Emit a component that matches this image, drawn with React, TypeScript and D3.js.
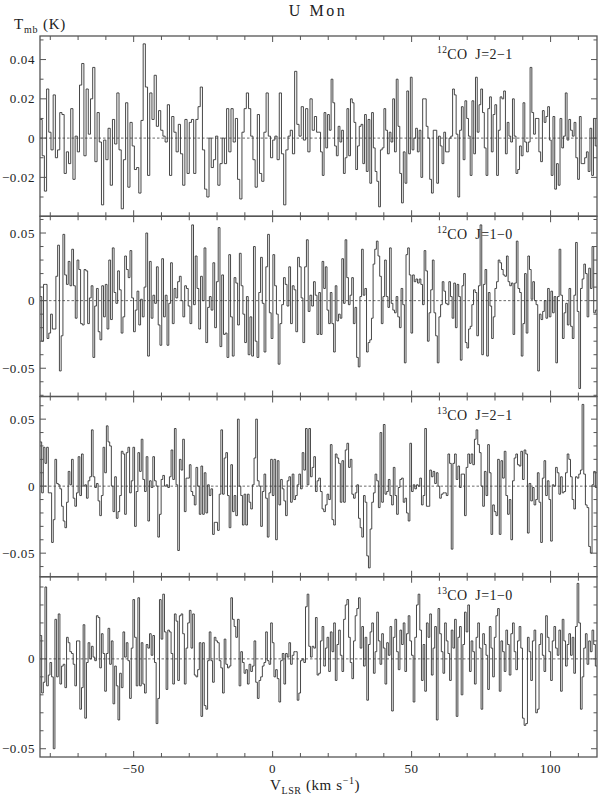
import React from "react";
import * as d3 from "d3";

// ---------- data (T_mb in K), read channel by channel from the picture ----------
const titleText = "U Mon";
const xTickMajor = [-50, 0, 50, 100];
const xDomain = [-83.7, 116.7];
const xSplit = 16.6;

const panelLabels = [
  { iso: "12", line: "CO J=2\u22121" },
  { iso: "12", line: "CO J=1\u22120" },
  { iso: "13", line: "CO J=2\u22121" },
  { iso: "13", line: "CO J=1\u22120" },
];
const yDomains = [
  [-0.0398, 0.052],
  [-0.0709, 0.0624],
  [-0.0676, 0.0669],
  [-0.0546, 0.0457],
];
const yTickLabels = [
  [0.04, 0.02, 0, -0.02],
  [0.05, 0, -0.05],
  [0.05, 0, -0.05],
  [0, -0.05],
];

const co21Left = [0.0095, -0.009, -0.027, 0.025, 0.003, -0.006, 0.022, -0.01, -0.006, 0.013, 0.012, -0.018, -0.007, -0.013, 0.015, -0.021, 0.001, -0.007, 0.027, 0.038, -0.009, 0.025, 0.002, 0.020, 0.036, -0.012, 0.013, -0.002, -0.034, -0.001, -0.011, 0.005, -0.024, 0.0095, -0.003, 0.023, -0.006, -0.036, -0.011, 0.018, -0.025, 0.008, -0.004, -0.016, -0.015, -0.028, 0.009, 0.048, 0.026, -0.019, 0.023, 0.0095, 0.032, 0.006, 0.014, 0.004, 0.001, -0.002, 0.017, -0.019, 0.011, 0.003, -0.007, 0.007, -0.008, -0.024, 0.0095, -0.018, 0.008, 0.0095, -0.018, 0.0095, 0.016, 0.026, -0.006, -0.026, -0.030, 0.000, -0.015, -0.011, 0.001, -0.024, -0.013, 0, -0.013, 0.015, -0.007, 0.015, -0.002, 0.010, -0.021, -0.031, 0.003, 0.015, 0.023, 0.015, 0.001, -0.011, -0.025, 0.012, -0.018, -0.022, 0.003, 0.023, 0.001, -0.010, -0.001, 0.001, -0.011, 0.023, -0.008, -0.034, -0.006, 0.001, 0.004, -0.008, 0.034, 0.007, 0.001, 0.016, -0.001, 0.015, -0.007, 0.020, 0.004, 0.011, 0.003];
const co21Right = [0.003, -0.007, -0.019, 0.013, -0.005, 0.012, 0.004, 0.030, 0.018, -0.004, -0.009, 0.006, -0.002, 0.004, -0.018, -0.010, 0.015, -0.009, 0.020, 0.018, 0.008, -0.016, -0.004, 0.006, 0.007, -0.013, 0.012, -0.017, 0.0095, -0.023, 0.013, -0.005, -0.017, -0.022, -0.035, -0.006, -0.005, 0.015, 0.004, -0.008, 0.003, -0.002, 0.020, -0.007, 0.030, 0.006, -0.018, -0.033, -0.007, -0.023, 0.024, -0.008, 0.031, -0.006, 0.000, 0.005, -0.007, 0.004, -0.020, 0.020, 0.020, 0.006, 0.0, -0.021, -0.028, 0.004, 0.004, -0.023, 0.001, -0.004, -0.013, 0.003, -0.007, -0.007, 0.0, 0.001, 0.025, 0.022, 0.002, -0.030, 0.004, 0.016, -0.011, 0.019, 0.010, 0.001, -0.019, 0.019, -0.008, 0.031, 0.003, 0.017, 0.025, 0.013, -0.005, -0.019, 0.015, 0.021, -0.007, 0.012, 0.017, -0.019, 0.004, 0.021, 0.020, 0.024, -0.008, 0.008, 0.001, -0.002, 0.020, 0.001, -0.018, -0.016, -0.004, -0.009, 0.018, -0.002, -0.007, -0.002, 0.036, 0.013, 0.002, 0.010, 0.010, -0.007, -0.012, 0.014, 0.008, 0.011, 0.016, -0.001, -0.019, 0.011, -0.026, -0.013, -0.024, 0.010, -0.005, 0.001, 0.023, -0.001, 0.0095, 0.004, 0.001, 0.008, -0.010, -0.021, 0.011, -0.013, -0.013, -0.010, -0.007, -0.017, 0.005, -0.019, 0.010, -0.004];

const co10Left = [0.003, -0.030, 0.012, 0.012, -0.028, -0.024, -0.010, -0.021, -0.021, 0.018, 0.041, -0.052, -0.026, 0.049, 0.019, 0.012, 0.029, 0.011, 0.038, 0.011, -0.013, 0.030, 0.023, -0.017, -0.018, 0.023, 0.022, -0.017, 0.002, 0.011, -0.042, -0.004, 0.009, -0.023, -0.029, 0.011, -0.012, 0.012, -0.021, 0.030, -0.014, 0.039, 0.006, -0.002, 0.022, 0.008, -0.024, -0.012, 0.033, 0.023, 0.017, 0.037, 0.002, -0.023, -0.007, 0.007, -0.018, 0.001, -0.012, 0.010, 0.050, -0.041, 0.029, -0.013, 0.004, -0.002, 0.025, -0.018, -0.033, 0.031, -0.012, 0.004, -0.033, -0.002, 0.028, -0.017, 0.009, 0.002, 0.014, 0.018, 0.0, -0.012, 0.011, 0.009, -0.004, -0.017, 0.056, -0.003, 0.033, 0.009, -0.021, 0.018, 0.0, 0.039, -0.031, -0.005, 0.003, -0.007, 0.028, -0.020, 0.014, 0.054, -0.034, 0.019, -0.025, -0.024, -0.042, 0.034, -0.012, -0.041, 0.017, 0.013, -0.018, 0.035, 0.011, -0.010, -0.031, 0.003, -0.040, -0.012, -0.041, 0.040, -0.030, -0.042, 0.006, 0.032, -0.002, -0.038, 0.025, 0.049, -0.009, -0.028, 0.034, 0.011, -0.010, -0.047, -0.017, -0.003, 0.017, 0.012, -0.004, 0.025, -0.017, 0.011, 0.008, -0.023, 0.032, 0.025, 0.002, -0.031, 0.025, 0.045, -0.008, 0.004, -0.004, 0.014, 0.004, -0.025];
const co10Right = [0.006, -0.025, 0.029, 0.009, 0.025, -0.007, -0.017, 0.006, -0.017, -0.038, 0.011, -0.015, -0.010, -0.013, 0.031, -0.002, 0.045, 0.017, -0.003, 0.004, 0.017, -0.017, -0.005, -0.042, -0.049, 0.003, 0.038, 0.004, 0.009, -0.038, -0.031, -0.029, -0.013, 0.027, 0.038, 0.044, 0.033, 0.018, -0.017, 0.003, 0.030, 0.003, -0.005, 0.039, -0.002, -0.007, -0.009, 0.003, -0.012, -0.020, 0.009, -0.003, -0.046, 0.034, 0.039, 0.019, -0.024, 0.019, 0.014, 0.016, 0.013, 0.016, 0.012, -0.003, 0.037, 0.022, -0.030, -0.009, 0.008, 0.030, -0.009, -0.026, -0.046, -0.012, -0.003, 0.014, 0.007, -0.002, -0.003, 0.014, 0.003, -0.013, 0.013, -0.020, 0.012, 0.003, -0.044, 0.011, 0.020, -0.031, -0.035, -0.021, -0.019, -0.003, 0.008, 0.006, -0.026, 0.011, 0.056, -0.040, 0.012, 0.023, -0.041, 0.006, -0.004, -0.028, -0.012, 0.009, 0.014, 0.030, 0.028, 0.023, 0.019, 0.018, 0.033, 0.014, 0.011, 0.013, -0.025, 0.013, 0.044, 0.009, 0.006, -0.041, -0.017, 0.020, -0.024, 0.033, 0.023, 0.001, 0.014, 0.0, -0.003, -0.052, -0.010, -0.014, -0.008, 0.0, -0.013, 0.009, -0.012, 0.007, -0.009, 0.003, -0.046, 0.003, 0.038, 0.004, -0.028, -0.009, -0.002, -0.018, 0.009, -0.019, -0.028, 0.004, 0.043, -0.008, -0.065, 0.009, 0.016, 0.027, 0.020, -0.012, 0.024, 0.009, 0.040, -0.009, -0.007];

const c13o21Left = [0.033, -0.005, 0.029, 0.017, 0.029, -0.005, -0.005, -0.042, -0.025, 0.020, 0.002, 0.001, -0.002, -0.015, -0.026, -0.031, -0.012, 0.011, 0.001, 0.020, -0.009, -0.015, -0.005, 0.022, -0.007, 0.024, 0.0, 0.001, -0.009, 0.004, 0.007, 0.042, 0.007, -0.001, 0.002, -0.011, -0.022, -0.007, 0.029, 0.010, 0.045, 0.033, 0.030, 0.0, -0.019, 0.007, -0.024, -0.019, -0.007, 0.026, 0.024, -0.021, 0.025, 0.029, -0.005, 0.004, 0.029, -0.030, -0.004, 0.025, 0.011, 0.035, 0.005, -0.004, 0.022, -0.026, 0.004, -0.001, 0.022, 0.004, 0.0, -0.038, -0.021, 0.005, 0.008, 0.0, 0.001, -0.001, 0.007, 0.027, 0.005, 0.043, 0.001, -0.048, 0.020, 0.012, 0.035, -0.019, 0.006, 0.006, 0.016, -0.004, -0.007, -0.014, 0.014, 0.0, -0.021, 0.015, -0.021, 0.010, -0.020, 0.001, -0.007, -0.002, -0.036, -0.027, -0.027, -0.033, -0.006, 0.042, -0.006, 0.021, 0.025, -0.007, -0.031, 0.016, -0.019, -0.007, -0.022, 0.050, 0.0, -0.007, -0.029, -0.006, -0.029, -0.006, -0.012, -0.017, 0.001, 0.021, 0.050, 0.004, 0.0, -0.030, -0.004, 0.009, -0.009, -0.038, -0.005, 0.020, -0.007, 0.020, -0.040, 0.019, -0.014, 0.005, -0.002, -0.011, -0.022, 0.004, 0.007, -0.012, 0.009, -0.010, -0.007, 0.001, 0.009, -0.002, 0.025, 0.012, 0.043, 0.001, 0.043, 0.007, 0.014, 0.022, -0.004, 0.004];
const c13o21Right = [0.006, -0.004, -0.017, -0.019, -0.014, -0.006, -0.010, 0.031, -0.025, -0.029, 0.024, 0.021, 0.017, -0.012, 0.019, -0.012, 0.027, 0.032, 0.014, 0.020, -0.006, -0.009, -0.005, 0.001, -0.024, -0.031, -0.038, -0.007, -0.012, -0.052, -0.061, -0.032, -0.012, -0.005, 0.009, 0.004, -0.016, 0.040, -0.012, 0.046, -0.006, -0.004, 0.005, -0.007, -0.014, 0.014, -0.007, -0.021, -0.001, 0.005, 0.006, -0.012, -0.009, -0.020, -0.026, 0.032, -0.004, 0.001, -0.002, 0.001, 0.0, 0.006, -0.014, -0.007, 0.043, -0.015, -0.015, 0.012, 0.007, 0.011, 0.002, 0.010, 0.0, -0.009, -0.006, -0.005, -0.005, -0.007, 0.024, 0.017, -0.047, 0.017, 0.024, 0.005, 0.015, -0.001, 0.009, 0.009, -0.022, 0.014, 0.024, 0.017, 0.024, 0.016, 0.035, 0.042, 0.031, 0.025, 0.0, -0.015, 0.011, -0.007, 0.031, 0.010, -0.036, -0.014, -0.019, -0.022, 0.020, -0.036, 0.019, 0.006, 0.026, -0.007, -0.021, -0.010, -0.040, 0.004, 0.021, 0.024, 0.016, 0.015, 0.026, 0.005, 0.027, 0.024, -0.035, 0.002, -0.011, -0.001, -0.014, -0.010, 0.010, -0.012, -0.042, 0.006, 0.019, -0.007, 0.004, -0.010, -0.041, 0.001, 0.0, 0.014, 0.010, -0.006, 0.007, -0.005, -0.004, 0.010, 0.024, 0.020, 0.007, -0.010, -0.017, 0.007, 0.006, 0.009, 0.012, 0.061, 0.009, -0.014, -0.016, -0.045, -0.050, 0.001, 0.011, -0.001];

const c13o10Left = [0.013, -0.019, -0.013, 0.040, -0.015, -0.009, -0.002, -0.010, -0.050, 0.022, -0.010, 0.025, -0.014, -0.004, -0.003, -0.016, 0.012, 0.009, 0.004, 0.003, -0.003, -0.015, 0.010, 0.010, -0.028, -0.016, 0.019, -0.033, -0.002, 0.009, 0.0, 0.007, 0.001, -0.001, 0.024, 0.023, -0.005, 0.014, 0.003, -0.018, 0.003, 0.017, -0.003, 0.010, -0.025, -0.004, -0.015, -0.034, -0.008, -0.016, 0.015, 0.001, 0.009, -0.001, -0.022, 0.006, 0.033, 0.012, -0.015, 0.034, -0.015, 0.009, -0.014, -0.019, 0.008, 0.006, 0.014, 0.002, 0.013, -0.002, -0.036, -0.022, 0.033, 0.011, 0.036, 0.015, -0.017, 0.016, 0.015, 0.003, -0.014, 0.025, 0.021, -0.012, 0.024, 0.025, 0.014, -0.014, 0.006, 0.020, 0.027, 0.006, 0.025, -0.009, -0.010, -0.006, 0.009, -0.032, 0.009, -0.026, -0.028, -0.001, 0.015, -0.001, -0.013, 0.012, 0.010, 0.009, -0.001, -0.005, -0.019, 0.011, -0.003, -0.005, -0.004, 0.034, 0.022, 0.018, 0.012, 0.022, -0.015, 0.004, -0.002, -0.008, -0.006, -0.014, -0.003, -0.007, -0.004, 0.010, -0.013, -0.022, -0.012, -0.010, -0.004, -0.002, 0.015, -0.001, -0.003, 0.020, 0.009, -0.010, -0.006, -0.011, -0.024, -0.001, 0.003, -0.014, 0.003, 0.001, 0.009, -0.003, 0.002, 0.004, 0.004, -0.023, -0.019, -0.001, 0.0, -0.002, 0.029, 0.036, 0.007, 0.001, 0.007, 0.006, 0.023, -0.009];
const c13o10Right = [-0.008, 0.010, 0.018, -0.004, 0.006, 0.012, -0.007, 0.015, 0.004, 0.020, -0.012, 0.008, 0.016, 0.002, -0.007, 0.022, 0.030, 0.033, 0.012, -0.002, -0.011, 0.010, 0.024, 0.028, 0.034, 0.006, 0.018, -0.004, 0.012, -0.023, 0.008, 0.015, 0.020, -0.008, 0.004, 0.026, 0.010, -0.003, 0.014, 0.006, -0.014, 0.009, 0.002, 0.018, -0.029, 0.012, 0.022, 0.004, -0.006, 0.016, 0.008, 0.020, -0.007, 0.014, 0.024, 0.010, 0.002, -0.024, 0.012, 0.030, 0.036, 0.016, -0.012, 0.008, -0.018, 0.020, 0.012, 0.025, -0.009, 0.006, 0.018, -0.034, 0.028, 0.014, 0.004, -0.008, 0.020, 0.010, 0.003, -0.012, 0.016, 0.006, 0.022, -0.032, 0.012, 0.018, -0.020, 0.008, 0.026, 0.015, 0.030, -0.007, 0.010, 0.004, -0.014, 0.012, 0.020, 0.006, -0.028, 0.014, 0.008, 0.002, -0.017, 0.018, 0.006, -0.010, 0.012, 0.024, 0.028, -0.018, 0.010, 0.004, -0.007, 0.016, 0.008, -0.009, 0.014, 0.020, 0.004, -0.006, 0.010, 0.018, 0.006, -0.033, -0.037, -0.036, 0.012, 0.004, -0.012, 0.010, 0.016, -0.030, -0.028, 0.008, 0.014, 0.002, -0.007, 0.024, 0.012, 0.004, -0.012, 0.010, 0.018, 0.006, 0.002, 0.016, -0.018, 0.022, 0.010, -0.004, 0.008, 0.014, 0.002, 0.012, -0.008, 0.018, 0.042, 0.020, -0.028, -0.010, 0.006, 0.014, -0.003, 0.010, 0.004, 0.016, 0.008, -0.004];

const spectra = [
  [co21Left, co21Right],
  [co10Left, co10Right],
  [c13o21Left, c13o21Right],
  [c13o10Left, c13o10Right],
];

// ---------- layout ----------
const W = 600;
const H = 796;
const left = 40;
const right = 597;
const top = 36;
const bottom = 757;
const panelH = (bottom - top) / 4;
const font = "'Liberation Serif', 'DejaVu Serif', serif";
const ink = "#222";
const lineCol = "#333";
const frameCol = "#555";

function fmt(v: number) {
  if (v === 0) return "0";
  const s = Math.abs(v).toString();
  return (v < 0 ? "\u2212" : "") + s;
}

function channels(leftVals: number[], rightVals: number[]) {
  const pts: [number, number][] = [];
  const dvL = (xSplit - xDomain[0]) / leftVals.length;
  leftVals.forEach((t, i) => pts.push([xDomain[0] + i * dvL, t]));
  const dvR = (xDomain[1] - xSplit) / rightVals.length;
  rightVals.forEach((t, i) => pts.push([xSplit + i * dvR, t]));
  pts.push([xDomain[1], rightVals[rightVals.length - 1]]);
  return pts;
}

export default function App() {
  const x = d3.scaleLinear().domain(xDomain).range([left, right]);
  const xMinor = d3.range(-80, 117, 10);

  return (
    <svg width={W} height={H} style={{ display: "block", position: "absolute", left: 0, top: 0, background: "#fff" }}>
      <rect x={0} y={0} width={W} height={H} fill="#fff" />
      <text x={318} y={16} textAnchor="middle" fontFamily={font} fontSize={16} letterSpacing={2.5} fill={ink}>
        {titleText}
      </text>
      <text x={14} y={29} fontFamily={font} fontSize={15} fill={ink} letterSpacing={0.8}>
        T<tspan fontSize={10} dy={4}>mb</tspan>
        <tspan dy={-4}>{"\u00a0(K)"}</tspan>
      </text>

      {spectra.map((pair, p) => {
        const y0 = top + p * panelH;
        const y1 = y0 + panelH;
        const y = d3.scaleLinear().domain(yDomains[p]).range([y1, y0]);
        const pts = channels(pair[0], pair[1]);
        const line = d3
          .line<[number, number]>()
          .x((d) => x(d[0]))
          .y((d) => y(d[1]))
          .curve(d3.curveStepAfter);
        const [lo, hi] = yDomains[p];
        const yMinor = d3.range(Math.ceil(lo / 0.01) * 0.01, hi + 1e-9, 0.01).map((v) => Math.round(v * 100) / 100);
        const majors = yTickLabels[p];
        const clipId = `clip${p}`;
        return (
          <g key={p}>
            <defs>
              <clipPath id={clipId}>
                <rect x={left} y={y0} width={right - left} height={panelH} />
              </clipPath>
            </defs>
            <line x1={left} x2={right} y1={y(0)} y2={y(0)} stroke="#444" strokeWidth={0.8} strokeDasharray="2.5,2" />
            <path d={line(pts) || ""} fill="none" stroke={lineCol} strokeWidth={0.9} clipPath={`url(#${clipId})`} />
            <rect x={left} y={y0} width={right - left} height={panelH} fill="none" stroke={frameCol} strokeWidth={1.3} />
            {xMinor.map((v) => {
              const len = v % 50 === 0 ? 6 : 4;
              return (
                <g key={`xt${v}`}>
                  <line x1={x(v)} x2={x(v)} y1={y1} y2={y1 - len} stroke={frameCol} strokeWidth={1} />
                  <line x1={x(v)} x2={x(v)} y1={y0} y2={y0 + len} stroke={frameCol} strokeWidth={1} />
                </g>
              );
            })}
            {yMinor.map((v) => {
              const isMajor = majors.some((m) => Math.abs(m - v) < 1e-6);
              const len = isMajor ? 6 : 3.5;
              return (
                <g key={`yt${v}`}>
                  <line x1={left} x2={left + len} y1={y(v)} y2={y(v)} stroke={frameCol} strokeWidth={1} />
                  <line x1={right} x2={right - len} y1={y(v)} y2={y(v)} stroke={frameCol} strokeWidth={1} />
                </g>
              );
            })}
            {majors.map((v) => (
              <text key={`yl${v}`} x={35} y={y(v) + 4.5} textAnchor="end" fontFamily={font} fontSize={13} letterSpacing={0.6} fill={ink}>
                {fmt(v)}
              </text>
            ))}
            <text x={437} y={y0 + 23} fontFamily={font} fontSize={14} fill={ink} letterSpacing={0.4}>
              <tspan fontSize={9.5} dy={-6}>{panelLabels[p].iso}</tspan>
              <tspan dy={6}>{panelLabels[p].line.replace(" ", "\u00a0\u00a0")}</tspan>
            </text>
          </g>
        );
      })}

      {xTickMajor.map((v) => (
        <text key={`xl${v}`} x={x(v)} y={773} textAnchor="middle" fontFamily={font} fontSize={13} letterSpacing={0.6} fill={ink}>
          {fmt(v)}
        </text>
      ))}
      <text x={270} y={790} fontFamily={font} fontSize={15} fill={ink} letterSpacing={0.6}>
        V<tspan fontSize={10} dy={4}>LSR</tspan>
        <tspan dy={-4}>{"\u00a0(km s"}</tspan>
        <tspan fontSize={10} dy={-6}>{"\u22121"}</tspan>
        <tspan dy={6}>)</tspan>
      </text>
    </svg>
  );
}
